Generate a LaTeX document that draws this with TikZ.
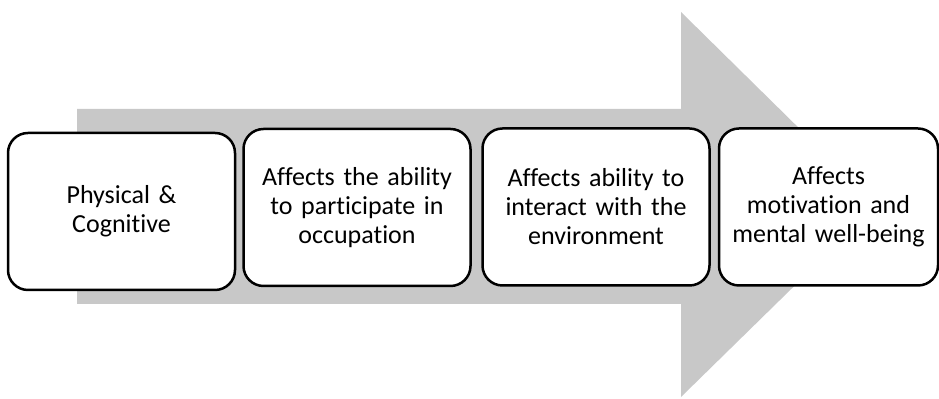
\documentclass[tikz,border=0pt]{standalone}
\usepackage{fontspec}
\setmainfont[Ligatures=NoCommon]{Carlito}
\usepackage{tikz}
\usetikzlibrary{backgrounds}

\definecolor{flowgray}{RGB}{200,200,200}

\begin{document}
\begin{tikzpicture}[
  every node/.style={font=\fontsize{13pt}{14.5pt}\selectfont},
  stage/.style={draw,rounded corners=10pt,line width=1.25pt,fill=white,
    minimum width=113.5pt,minimum height=78.5pt,text width=106pt,
    align=center,inner sep=0pt},
  x=0.5pt,y=-0.5pt]

\useasboundingbox (0,0) rectangle (939,399);

% ---- the big arrow behind ----
\fill[flowgray] (77,109) -- (681,109) -- (681,12) -- (877,205)
  -- (681,397) -- (681,304) -- (77,304) -- cycle;

% ---- the four stages ----
\node[stage] (phys) at (121.5,211.5) {Physical \&\\Cognitive};
\node[stage] (occ)  at (357,207.5)   {Affects the ability\\to participate in\\occupation};
\node[stage] (env)  at (596,207)     {Affects ability to\\interact with the\\environment};
\node[stage,minimum width=109.5pt] (mot) at (828.5,207) {Affects\\motivation and\\mental well-being};
\end{tikzpicture}
\end{document}
